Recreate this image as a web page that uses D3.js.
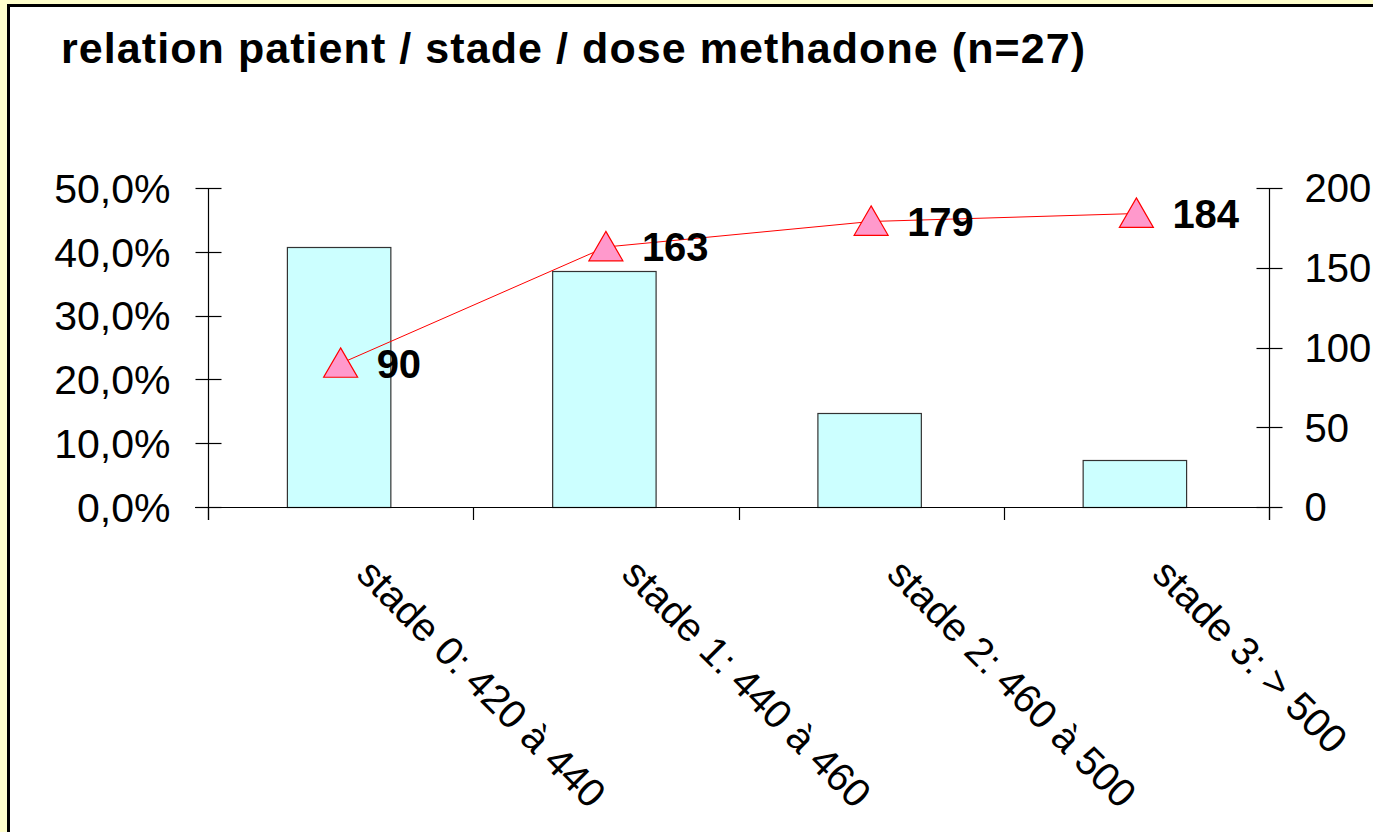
<!DOCTYPE html>
<html>
<head>
<meta charset="utf-8">
<script src="https://cdn.jsdelivr.net/npm/d3@7"></script>
<style>
  html, body { margin: 0; padding: 0; background: #ffffcc; }
  svg { display: block; }
  text { font-family: Arial, "Liberation Sans", sans-serif; fill: #000; }
</style>
</head>
<body>
<svg id="chart" width="1373" height="832"></svg>
<script>
// ---- data ----
const title = "relation patient / stade / dose methadone (n=27)";
const categories = ["stade 0: 420 à 440", "stade 1: 440 à 460", "stade 2: 460 à 500", "stade 3: > 500"];
const percentValues = [0.407, 0.370, 0.148, 0.074];   // bars, left axis
const doseValues = [90, 163, 179, 184];                 // line, right axis
const leftTicks = [0, 0.1, 0.2, 0.3, 0.4, 0.5];
const rightTicks = [0, 50, 100, 150, 200];

(function () {
const svg = d3.select("#chart");
const W = 1373, H = 832;

// background frame
svg.append("rect").attr("x", 0).attr("y", 0).attr("width", W).attr("height", H).attr("fill", "#ffffcc");
svg.append("rect").attr("x", 8.5).attr("y", 5.5).attr("width", W + 20).attr("height", H + 20)
  .attr("fill", "#ffffff").attr("stroke", "#000").attr("stroke-width", 3);

// title
svg.append("text").attr("x", 61).attr("y", 63)
  .attr("font-size", 43).attr("font-weight", "bold")
  .attr("textLength", 1024).attr("lengthAdjust", "spacing")
  .text(title);

const pLeft = 208, pRight = 1269, pTop = 188, pBottom = 507;

const x = d3.scaleBand().domain(categories).range([pLeft, pRight])
  .paddingInner(0.61).paddingOuter(0.305);
const xBand = d3.scaleBand().domain(categories).range([pLeft, pRight]).padding(0);
const yL = d3.scaleLinear().domain([0, 0.5]).range([pBottom, pTop]);
const yR = d3.scaleLinear().domain([0, 200]).range([pBottom, pTop]);

// bars
svg.append("g").selectAll("rect").data(categories).join("rect")
  .attr("x", d => x(d) - 1.5)
  .attr("y", (d, i) => Math.round(yL(percentValues[i])) + 0.5)
  .attr("width", x.bandwidth())
  .attr("height", (d, i) => pBottom - Math.round(yL(percentValues[i])))
  .attr("fill", "#ccffff").attr("stroke", "#333").attr("stroke-width", 1.2);

// left axis
const fmtPct = v => d3.format(".1f")(v * 100).replace(".", ",") + "%";
const gL = svg.append("g").attr("transform", `translate(${pLeft + 0.5},0)`);
gL.append("line").attr("x1", 0).attr("x2", 0).attr("y1", pTop).attr("y2", pBottom + 13).attr("stroke", "#000").attr("stroke-width", 1.2);
gL.selectAll("line.t").data(leftTicks).join("line").attr("class", "t")
  .attr("x1", -13).attr("x2", 13)
  .attr("y1", d => Math.round(yL(d)) + 0.5).attr("y2", d => Math.round(yL(d)) + 0.5)
  .attr("stroke", "#000").attr("stroke-width", 1.2);
gL.selectAll("text").data(leftTicks).join("text")
  .attr("x", -38).attr("y", d => yL(d)).attr("dy", "0.36em")
  .attr("text-anchor", "end").attr("font-size", 41)
  .text(fmtPct);

// right axis
const gR = svg.append("g").attr("transform", `translate(${pRight + 0.5},0)`);
gR.append("line").attr("x1", 0).attr("x2", 0).attr("y1", pTop).attr("y2", pBottom + 13).attr("stroke", "#000").attr("stroke-width", 1.2);
gR.selectAll("line.t").data(rightTicks).join("line").attr("class", "t")
  .attr("x1", -13).attr("x2", 13)
  .attr("y1", d => Math.round(yR(d)) + 0.5).attr("y2", d => Math.round(yR(d)) + 0.5)
  .attr("stroke", "#000").attr("stroke-width", 1.2);
gR.selectAll("text").data(rightTicks).join("text")
  .attr("x", 35).attr("y", d => yR(d)).attr("dy", "0.36em")
  .attr("text-anchor", "start").attr("font-size", 40)
  .text(d => d);

// x axis
const gX = svg.append("g");
gX.append("line").attr("x1", pLeft - 13).attr("x2", pRight + 13)
  .attr("y1", pBottom + 0.5).attr("y2", pBottom + 0.5).attr("stroke", "#000").attr("stroke-width", 1.2);
const bounds = categories.map(d => xBand(d)).concat([pRight]);
gX.selectAll("line.t").data(bounds).join("line").attr("class", "t")
  .attr("x1", d => Math.round(d) + 0.5).attr("x2", d => Math.round(d) + 0.5)
  .attr("y1", pBottom).attr("y2", pBottom + 13)
  .attr("stroke", "#000").attr("stroke-width", 1.2);
gX.selectAll("text").data(categories).join("text")
  .attr("transform", d => `translate(${xBand(d) + xBand.bandwidth() / 2 + 14},576) rotate(45)`)
  .attr("text-anchor", "start").attr("font-size", 40)
  .text(d => d);

// line series
const cx = d => xBand(d) + xBand.bandwidth() / 2;
const line = d3.line().x((d, i) => cx(categories[i])).y(d => yR(d));
svg.append("path").datum(doseValues).attr("d", line)
  .attr("fill", "none").attr("stroke", "#ff0000").attr("stroke-width", 1);

const tri = d3.symbol().type(d3.symbolTriangle).size(500);
svg.append("g").selectAll("path").data(doseValues).join("path")
  .attr("transform", (d, i) => `translate(${cx(categories[i])},${yR(d) + 4})`)
  .attr("d", tri)
  .attr("fill", "#ff99cc").attr("stroke", "#ff0000").attr("stroke-width", 1.2);

svg.append("g").selectAll("text").data(doseValues).join("text")
  .attr("x", (d, i) => cx(categories[i]) + 36)
  .attr("y", d => yR(d)).attr("dy", "0.36em")
  .attr("font-size", 40).attr("font-weight", "bold")
  .text(d => d);
})();
</script>
</body>
</html>
